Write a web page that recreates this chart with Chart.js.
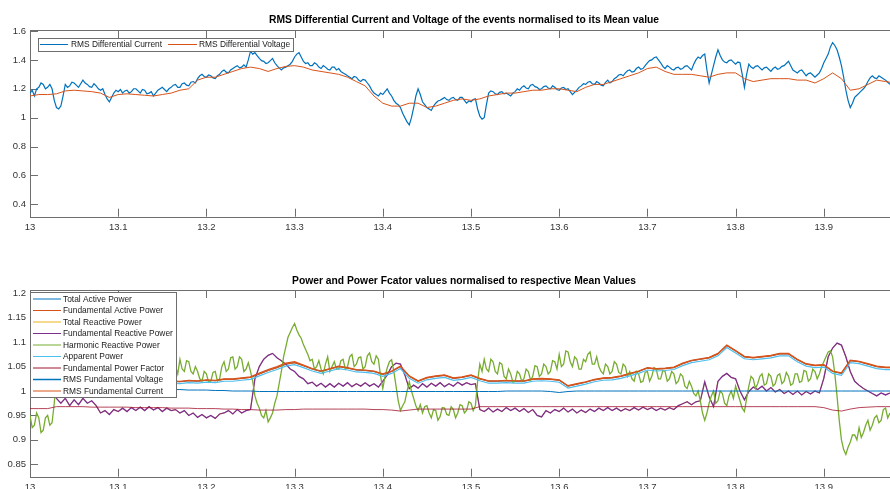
<!DOCTYPE html>
<html><head><meta charset="utf-8">
<script src="https://cdn.jsdelivr.net/npm/chart.js@4.4.1/dist/chart.umd.min.js"></script>
<style>
html,body{margin:0;padding:0;background:#fff;overflow:hidden;width:890px;height:489px;}
.wrap{position:absolute;left:0;width:930px;height:240px;}
</style></head><body>
<div class="wrap" style="top:0"><canvas id="c1" width="930" height="240"></canvas></div>
<div class="wrap" style="top:260px"><canvas id="c2" width="930" height="240"></canvas></div>
<script>
// ---------------- DATA ----------------
const xStart = 13.0;
const denseStep = 0.0025; // sample spacing of the noisiest traces
const fineStep = 0.005;   // sample spacing of noisy traces
const coarseStep = 0.01;  // sample spacing of smoother traces
const xTicks = [13, 13.1, 13.2, 13.3, 13.4, 13.5, 13.6, 13.7, 13.8, 13.9, 14];
const yTicksTop = [0.4, 0.6, 0.8, 1, 1.2, 1.4, 1.6];
const yTicksBottom = [0.85, 0.9, 0.95, 1, 1.05, 1.1, 1.15, 1.2];

const topTitle = "RMS Differential Current and Voltage of the events normalised to its Mean value";
const bottomTitle = "Power and Power Fcator values normalised to respective Mean Values";
const topLabels = ["RMS Differential Current", "RMS Differential Voltage"];
const bottomLabels = ["Total Active Power", "Fundamental Active Power", "Total Reactive Power",
  "Fundamental Reactive Power", "Harmonic Reactive Power", "Apparent Power",
  "Fundamental Power Factor", "RMS Fundamental Voltage", "RMS Fundamental Current"];

// top plot (dense step)
const rmsDiffCurrent = [
1.17,1.19,1.15,1.2,1.21,1.24,1.23,1.2,1.21,1.23,1.20,1.12,1.07,1.06,1.08,1.15,1.23,1.21,1.22,1.245,
1.24,1.225,1.21,1.235,1.26,1.24,1.23,1.215,1.21,1.235,1.22,1.2,1.19,1.2,1.16,1.13,1.11,1.14,1.17,1.19,
1.18,1.195,1.17,1.185,1.19,1.17,1.18,1.2,1.20,1.185,1.17,1.195,1.19,1.165,1.17,1.18,1.15,1.17,1.19,1.2,
1.21,1.195,1.18,1.2,1.21,1.225,1.23,1.21,1.21,1.235,1.24,1.225,1.22,1.245,1.25,1.24,1.27,1.29,1.30,1.285,
1.28,1.295,1.29,1.275,1.27,1.29,1.30,1.32,1.33,1.315,1.31,1.33,1.34,1.35,1.36,1.345,1.35,1.365,1.35,1.4,
1.46,1.44,1.45,1.43,1.41,1.395,1.39,1.375,1.38,1.395,1.41,1.38,1.36,1.345,1.33,1.345,1.35,1.36,1.37,1.39,
1.42,1.44,1.45,1.42,1.39,1.375,1.38,1.36,1.36,1.38,1.37,1.35,1.34,1.36,1.35,1.335,1.33,1.35,1.35,1.33,
1.34,1.32,1.31,1.3,1.29,1.28,1.27,1.285,1.28,1.26,1.25,1.265,1.26,1.24,1.22,1.19,1.17,1.16,1.15,1.17,
1.16,1.18,1.20,1.17,1.15,1.12,1.10,1.09,1.07,1.03,1.00,0.97,0.95,1.0,1.07,1.15,1.20,1.16,1.11,1.09,
1.07,1.06,1.05,1.08,1.10,1.115,1.12,1.13,1.14,1.125,1.12,1.135,1.14,1.125,1.12,1.14,1.14,1.12,1.10,1.115,
1.11,1.125,1.13,1.06,1.01,0.99,1.00,1.09,1.17,1.185,1.18,1.165,1.16,1.175,1.18,1.165,1.17,1.16,1.15,1.17,
1.18,1.2,1.19,1.21,1.22,1.205,1.20,1.225,1.23,1.215,1.21,1.195,1.20,1.215,1.22,1.205,1.20,1.22,1.21,1.195,
1.19,1.205,1.21,1.195,1.20,1.18,1.16,1.175,1.19,1.21,1.22,1.235,1.23,1.245,1.25,1.235,1.23,1.25,1.24,1.225,
1.22,1.245,1.26,1.24,1.25,1.27,1.28,1.295,1.30,1.29,1.31,1.325,1.33,1.315,1.32,1.34,1.35,1.335,1.34,1.36,
1.38,1.395,1.40,1.415,1.42,1.4,1.38,1.355,1.34,1.36,1.35,1.335,1.33,1.345,1.35,1.335,1.34,1.355,1.36,1.345,
1.33,1.37,1.40,1.42,1.41,1.43,1.44,1.33,1.24,1.3,1.36,1.42,1.47,1.43,1.40,1.385,1.38,1.395,1.40,1.385,
1.37,1.385,1.38,1.3,1.21,1.3,1.37,1.35,1.34,1.355,1.36,1.345,1.33,1.345,1.35,1.335,1.32,1.34,1.35,1.335,
1.34,1.355,1.36,1.375,1.39,1.36,1.33,1.32,1.31,1.325,1.33,1.31,1.29,1.305,1.31,1.295,1.28,1.295,1.31,1.34,
1.38,1.41,1.44,1.49,1.52,1.5,1.47,1.42,1.36,1.28,1.19,1.12,1.07,1.1,1.14,1.155,1.17,1.185,1.20,1.22,
1.25,1.275,1.29,1.275,1.27,1.29,1.28,1.27,1.26,1.245,1.23];

// top plot (coarse step)
const rmsDiffVoltage = [
1.15,1.16,1.16,1.165,1.185,1.19,1.185,1.18,1.17,1.14,
1.16,1.165,1.16,1.155,1.15,1.16,1.17,1.19,1.20,1.26,
1.28,1.28,1.30,1.32,1.34,1.35,1.34,1.32,1.34,1.355,
1.36,1.35,1.33,1.32,1.31,1.30,1.28,1.25,1.22,1.15,
1.10,1.08,1.08,1.10,1.10,1.07,1.08,1.10,1.12,1.13,
1.12,1.13,1.15,1.16,1.17,1.17,1.18,1.19,1.19,1.20,
1.20,1.19,1.18,1.21,1.23,1.23,1.25,1.27,1.29,1.31,
1.34,1.35,1.32,1.30,1.30,1.30,1.29,1.28,1.30,1.31,
1.31,1.27,1.25,1.26,1.27,1.27,1.27,1.26,1.26,1.24,
1.27,1.31,1.27,1.19,1.20,1.23,1.26,1.25,1.24];

// bottom plot (dense step)
const harmonicReactivePower = [
0.95,0.925,0.93,0.955,0.945,0.915,0.92,0.945,0.95,0.93,0.935,0.975,1.03,1.045,1.05,1.035,1.04,1.065,1.06,1.045,
1.04,1.055,1.06,1.04,1.045,1.065,1.06,1.045,1.04,1.06,1.055,1.04,1.04,1.06,1.06,1.04,1.045,1.06,1.06,1.045,
1.04,1.06,1.055,1.04,1.04,1.06,1.06,1.045,1.045,1.065,1.06,1.04,1.04,1.06,1.055,1.04,1.04,1.06,1.06,1.04,
1.045,1.065,1.06,1.035,1.04,1.06,1.05,1.035,1.065,1.045,1.04,1.062,1.06,1.04,1.035,1.05,1.04,1.025,1.02,1.04,
1.035,1.018,1.02,1.038,1.04,1.02,1.025,1.05,1.06,1.04,1.045,1.068,1.07,1.045,1.05,1.07,1.065,1.04,1.045,1.058,
1.04,1.02,0.99,0.975,0.965,0.95,0.945,0.96,0.937,0.945,0.955,0.975,0.99,1.015,1.04,1.07,1.09,1.11,1.12,1.13,
1.138,1.125,1.115,1.108,1.095,1.085,1.075,1.062,1.065,1.045,1.05,1.062,1.045,1.035,1.055,1.07,1.04,1.05,1.06,1.045,
1.045,1.062,1.065,1.045,1.05,1.07,1.075,1.05,1.055,1.068,1.07,1.045,1.05,1.072,1.078,1.06,1.055,1.072,1.065,1.03,
1.005,1.03,1.047,1.06,1.064,1.04,1.01,0.98,0.96,0.97,0.978,1.0,1.019,1.0,0.985,0.97,0.96,0.972,0.955,0.968,
0.97,0.955,0.945,0.962,0.96,0.94,0.948,0.966,0.965,0.952,0.95,0.968,0.962,0.945,0.955,0.972,0.97,0.955,0.96,0.978,
0.975,0.96,0.97,1.02,1.055,1.04,1.065,1.045,1.04,1.065,1.06,1.04,1.035,1.058,1.055,1.03,1.025,1.045,1.035,1.018,
1.02,1.04,1.035,1.02,1.025,1.045,1.04,1.022,1.03,1.052,1.05,1.03,1.035,1.055,1.05,1.035,1.04,1.062,1.06,1.045,
1.075,1.05,1.055,1.082,1.08,1.06,1.05,1.07,1.065,1.045,1.045,1.065,1.06,1.075,1.08,1.055,1.055,1.07,1.05,1.04,
1.035,1.055,1.05,1.035,1.04,1.06,1.055,1.038,1.035,1.055,1.05,1.03,1.04,1.025,1.02,1.04,1.035,1.018,1.02,1.038,
1.04,1.02,1.03,1.048,1.045,1.025,1.025,1.042,1.04,1.02,1.025,1.04,1.035,1.015,1.02,1.035,1.03,1.01,1.005,1.02,
1.01,0.995,0.99,1.0,0.98,0.955,0.94,0.955,0.975,0.99,1.0,0.975,0.98,1.0,0.995,0.975,0.97,0.99,1.0,0.985,
1.01,0.995,0.98,0.965,0.958,0.985,1.01,1.03,1.025,1.005,1.015,1.03,1.035,1.012,1.015,1.035,1.03,1.01,1.015,1.032,
1.035,1.015,1.02,1.038,1.03,1.012,1.015,1.035,1.035,1.018,1.02,1.042,1.04,1.02,1.025,1.045,1.04,1.025,1.035,1.05,
1.06,1.07,1.08,1.082,1.07,1.035,0.99,0.94,0.9,0.88,0.87,0.885,0.895,0.91,0.91,0.9,0.925,0.905,0.915,0.93,
0.94,0.92,0.93,0.945,0.95,0.935,0.94,0.962,0.965,0.945,0.955];

// bottom plot (fine step)
const fundReactivePower = [
1.0,1.0,1.0,1.0,1.0,1.0,0.985,0.975,0.985,0.97,
0.982,0.972,0.985,0.975,0.98,0.97,0.955,0.96,0.952,0.962,
0.958,0.965,0.958,0.966,0.96,0.967,0.96,0.968,0.961,0.966,
0.958,0.965,0.96,0.962,0.955,0.96,0.95,0.955,0.946,0.952,
0.945,0.95,0.944,0.953,0.955,0.96,0.953,0.962,0.955,0.96,
0.962,1.025,1.05,1.065,1.073,1.077,1.068,1.062,1.055,1.045,
1.04,1.03,1.025,1.015,1.018,1.01,1.016,1.008,1.015,1.008,
1.016,1.01,1.017,1.009,1.015,1.01,1.017,1.01,1.015,1.008,
1.02,1.033,1.05,1.057,1.055,1.033,1.005,1.012,1.006,1.015,
1.008,1.016,1.01,1.017,1.009,1.015,1.01,1.018,1.012,1.017,
1.013,1.015,0.962,0.958,0.965,0.957,0.963,0.958,0.966,0.96,
0.965,0.958,0.964,0.956,0.962,0.95,0.947,0.96,0.955,0.962,
0.958,0.965,0.957,0.963,0.955,0.961,0.956,0.963,0.958,0.965,
0.96,0.966,0.96,0.965,0.959,0.964,0.96,0.966,0.961,0.967,
0.962,0.966,0.96,0.965,0.961,0.966,0.962,0.97,0.974,0.978,
0.972,0.978,0.98,1.019,0.988,0.968,1.02,1.03,1.036,1.028,
1.025,1.0,0.982,0.999,1.008,1.003,1.01,1.0,1.007,0.998,
1.003,0.995,1.0,0.993,1.0,0.992,0.999,0.994,1.0,0.996,
1.026,1.07,1.088,1.098,1.094,1.07,1.04,1.02,1.012,1.005,
1.0,0.995,0.99,0.996,0.992,0.996];

// bottom plot (coarse step)
const fundActivePower = [
1.02,1.02,1.02,1.02,1.02,1.02,1.02,1.02,1.02,1.02,
1.02,1.02,1.02,1.02,1.02,1.02,1.02,1.019,1.021,1.02,
1.022,1.021,1.024,1.024,1.026,1.028,1.035,1.042,1.048,1.055,
1.058,1.052,1.045,1.04,1.045,1.05,1.047,1.043,1.042,1.04,
1.034,1.04,1.05,1.03,1.02,1.027,1.03,1.032,1.026,1.028,
1.032,1.025,1.02,1.02,1.021,1.02,1.02,1.024,1.025,1.024,
1.022,1.01,1.014,1.018,1.023,1.026,1.027,1.03,1.035,1.04,
1.047,1.045,1.046,1.048,1.056,1.062,1.065,1.068,1.076,1.093,
1.082,1.07,1.068,1.07,1.072,1.076,1.076,1.064,1.055,1.052,
1.053,1.04,1.036,1.062,1.06,1.055,1.05,1.048,1.048];

const apparentPower = [
1.016,1.016,1.016,1.016,1.016,1.016,1.016,1.016,1.016,1.016,
1.016,1.016,1.016,1.016,1.016,1.016,1.016,1.015,1.017,1.016,
1.018,1.017,1.02,1.02,1.022,1.024,1.031,1.038,1.044,1.051,
1.054,1.048,1.041,1.036,1.041,1.046,1.043,1.039,1.038,1.036,
1.03,1.036,1.046,1.026,1.016,1.023,1.026,1.028,1.022,1.024,
1.028,1.021,1.016,1.016,1.017,1.016,1.016,1.02,1.021,1.02,
1.018,1.006,1.01,1.014,1.019,1.022,1.023,1.026,1.031,1.036,
1.043,1.041,1.042,1.044,1.052,1.058,1.061,1.064,1.072,1.089,
1.078,1.066,1.064,1.066,1.068,1.072,1.072,1.06,1.051,1.048,
1.049,1.036,1.032,1.058,1.056,1.051,1.046,1.044,1.044];

const rmsFundCurrent = [
1.021,1.021,1.021,1.021,1.021,1.021,1.021,1.021,1.021,1.021,
1.021,1.021,1.021,1.021,1.021,1.021,1.021,1.02,1.022,1.021,
1.023,1.022,1.025,1.025,1.027,1.029,1.037,1.044,1.05,1.057,
1.06,1.053,1.046,1.041,1.046,1.051,1.048,1.044,1.043,1.041,
1.035,1.041,1.051,1.031,1.021,1.028,1.031,1.033,1.027,1.029,
1.033,1.026,1.021,1.021,1.022,1.021,1.021,1.025,1.026,1.025,
1.023,1.011,1.015,1.019,1.024,1.027,1.028,1.031,1.036,1.041,
1.048,1.046,1.047,1.049,1.057,1.063,1.066,1.069,1.077,1.094,
1.083,1.071,1.069,1.071,1.073,1.077,1.077,1.065,1.056,1.053,
1.054,1.041,1.037,1.063,1.061,1.056,1.051,1.049,1.049];

const rmsFundVoltage = [
1.004,1.004,1.004,1.004,1.004,1.004,1.004,1.004,1.004,1.004,
1.004,1.004,1.003,1.003,1.003,1.003,1.003,1.003,1.002,1.002,
1.002,1.001,1.001,1.0,1.0,1.0,0.999,0.999,0.999,0.999,
0.999,0.999,0.999,0.999,0.999,0.999,0.999,0.999,0.999,0.999,
0.999,0.999,0.999,0.999,0.999,0.999,0.999,0.999,0.999,0.999,
0.999,0.999,0.999,0.999,1.0,1.0,1.0,1.0,1.0,0.999,
0.997,0.999,1.0,1.0,1.0,1.0,1.0,1.0,1.0,1.0,
1.0,1.0,1.0,1.0,1.0,1.0,1.0,1.0,1.0,1.0,
1.0,1.0,1.0,1.0,1.0,1.0,1.0,1.0,1.0,1.0,
1.0,1.0,1.0,1.0,1.0,1.0,1.0,1.0,1.0];

const fundPowerFactor = [
0.964,0.964,0.964,0.968,0.968,0.968,0.968,0.967,0.967,0.967,
0.967,0.967,0.966,0.966,0.966,0.966,0.965,0.965,0.965,0.964,
0.964,0.964,0.963,0.963,0.962,0.962,0.961,0.961,0.961,0.962,
0.962,0.963,0.963,0.963,0.963,0.963,0.963,0.963,0.963,0.962,
0.962,0.961,0.959,0.961,0.963,0.963,0.963,0.963,0.963,0.963,
0.963,0.968,0.968,0.968,0.968,0.968,0.968,0.968,0.968,0.968,
0.968,0.968,0.968,0.968,0.968,0.968,0.968,0.968,0.968,0.968,
0.968,0.968,0.968,0.968,0.968,0.968,0.968,0.968,0.968,0.968,
0.968,0.968,0.968,0.968,0.968,0.968,0.968,0.968,0.968,0.968,
0.966,0.961,0.959,0.963,0.966,0.967,0.968,0.968,0.968];

// Total active power is hidden under the fundamental active power trace,
// total reactive power under the fundamental reactive power trace.
const totalActivePower = fundActivePower;
const totalReactivePower = fundReactivePower;

// ---------------- RENDER ----------------
const FONT = '"Liberation Sans", Arial, Helvetica, sans-serif';
const AXIS = '#333333';
const C = {blue:'#0072BD', orange:'#D95319', yellow:'#EDB120', purple:'#7E2F8E',
           green:'#77AC30', lblue:'#4DBEEE', dred:'#A2142F'};

function pts(values, step) {
  return values.map((v, i) => ({x: xStart + Math.round(i * step * 10000) / 10000, y: v}));
}
function fmt(v) { return String(Math.round(v * 100) / 100); }

function decor(title, titleY, legend) {
  return {
    id: 'decor',
    beforeDatasetsDraw(chart) {
      const {ctx, chartArea: a, scales} = chart;
      ctx.save();
      ctx.strokeStyle = '#6e6e6e';
      ctx.lineWidth = 1;
      ctx.strokeRect(Math.round(a.left) + 0.5, Math.round(a.top) + 0.5,
                     Math.round(a.right - a.left), Math.round(a.bottom - a.top));
      ctx.beginPath();
      const tl = 8;
      scales.x.ticks.forEach(t => {
        const px = Math.round(scales.x.getPixelForValue(t.value)) + 0.5;
        ctx.moveTo(px, a.bottom); ctx.lineTo(px, a.bottom - tl);
        ctx.moveTo(px, a.top); ctx.lineTo(px, a.top + tl);
      });
      scales.y.ticks.forEach(t => {
        const py = Math.round(scales.y.getPixelForValue(t.value)) + 0.5;
        ctx.moveTo(a.left, py); ctx.lineTo(a.left + tl, py);
        ctx.moveTo(a.right, py); ctx.lineTo(a.right - tl, py);
      });
      ctx.stroke();
      ctx.restore();
    },
    afterDatasetsDraw(chart) {
      const {ctx} = chart;
      ctx.save();
      // title
      ctx.fillStyle = '#000';
      ctx.font = 'bold 10.3px ' + FONT;
      ctx.textAlign = 'center';
      ctx.textBaseline = 'middle';
      ctx.fillText(title, 464, titleY);
      // legend
      const L = legend;
      ctx.fillStyle = '#fff';
      ctx.fillRect(L.x, L.y, L.w, L.h);
      ctx.strokeStyle = '#6e6e6e';
      ctx.lineWidth = 1;
      ctx.strokeRect(L.x + 0.5, L.y + 0.5, L.w, L.h);
      ctx.font = '8.4px ' + FONT;
      ctx.textAlign = 'left';
      L.items.forEach(it => {
        ctx.strokeStyle = it.color;
        ctx.lineWidth = it.lw || 1;
        ctx.beginPath();
        ctx.moveTo(it.lx0, it.y); ctx.lineTo(it.lx1, it.y);
        ctx.stroke();
        ctx.fillStyle = '#1a1a1a';
        ctx.fillText(it.text, it.tx, it.y + 0.5);
      });
      ctx.restore();
    }
  };
}

function makeChart(id, datasets, ymin, ymax, yTicks, plugin) {
  const n = datasets.length;
  datasets.forEach((d, i) => {
    d.order = n - i;           // later series drawn on top (as in the original)
    d.pointRadius = 0;
    d.tension = 0;
    d.fill = false;
    d.borderWidth = d.borderWidth || 1;
  });
  return new Chart(document.getElementById(id), {
    type: 'line',
    data: {datasets},
    options: {
      responsive: false, animation: false, devicePixelRatio: 1,
      layout: {padding: {top: 30, right: 18, left: 0, bottom: 0}},
      plugins: {legend: {display: false}, tooltip: {enabled: false}, title: {display: false}},
      scales: {
        x: {
          type: 'linear', min: 13, max: 14,
          afterBuildTicks: s => { s.ticks = xTicks.map(v => ({value: v})); },
          afterFit: s => { s.height = 23.3; },
          grid: {display: false, drawTicks: false}, border: {display: false},
          ticks: {callback: v => fmt(v), color: AXIS, font: {family: FONT, size: 9.5},
                  padding: 5, maxRotation: 0, autoSkip: false}
        },
        y: {
          type: 'linear', min: ymin, max: ymax,
          afterBuildTicks: s => { s.ticks = yTicks.map(v => ({value: v})); },
          afterFit: s => { s.width = 30; },
          grid: {display: false, drawTicks: false}, border: {display: false},
          ticks: {callback: v => fmt(v), color: AXIS, font: {family: FONT, size: 9.5},
                  padding: 4, autoSkip: false}
        }
      }
    },
    plugins: [plugin]
  });
}

// top chart
makeChart('c1', [
  {label: topLabels[0], data: pts(rmsDiffCurrent, denseStep), borderColor: C.blue, borderWidth: 1.2},
  {label: topLabels[1], data: pts(rmsDiffVoltage, coarseStep), borderColor: C.orange, borderWidth: 1}
], 0.314, 1.607, yTicksTop, decor(topTitle, 20, {
  x: 38, y: 38, w: 255, h: 13,
  items: [
    {text: topLabels[0], color: C.blue, lx0: 40, lx1: 68, tx: 71, y: 44.5},
    {text: topLabels[1], color: C.orange, lx0: 168, lx1: 197, tx: 199, y: 44.5}
  ]
}));

// bottom chart
const bottomColors = [C.blue, C.orange, C.yellow, C.purple, C.green, C.lblue, C.dred, C.blue, C.orange];
const bottomWidths = [1, 1.2, 1, 1.3, 1.3, 1.2, 0.8, 1, 1.2];
const bottomSeries = [
  [totalActivePower, coarseStep], [fundActivePower, coarseStep], [totalReactivePower, fineStep],
  [fundReactivePower, fineStep], [harmonicReactivePower, denseStep], [apparentPower, coarseStep],
  [fundPowerFactor, coarseStep], [rmsFundVoltage, coarseStep], [rmsFundCurrent, coarseStep]
];
makeChart('c2', bottomSeries.map((s, i) => ({
  label: bottomLabels[i], data: pts(s[0], s[1]), borderColor: bottomColors[i], borderWidth: bottomWidths[i]
})), 0.8246, 1.2068, yTicksBottom, decor(bottomTitle, 21, {
  x: 30, y: 32, w: 146, h: 105,
  items: bottomLabels.map((t, i) => ({
    text: t, color: bottomColors[i], lx0: 33, lx1: 61, tx: 63, y: 39 + 11.5 * i,
    lw: (i === 7 ? 1.5 : 1)
  }))
}));
</script>
</body></html>
